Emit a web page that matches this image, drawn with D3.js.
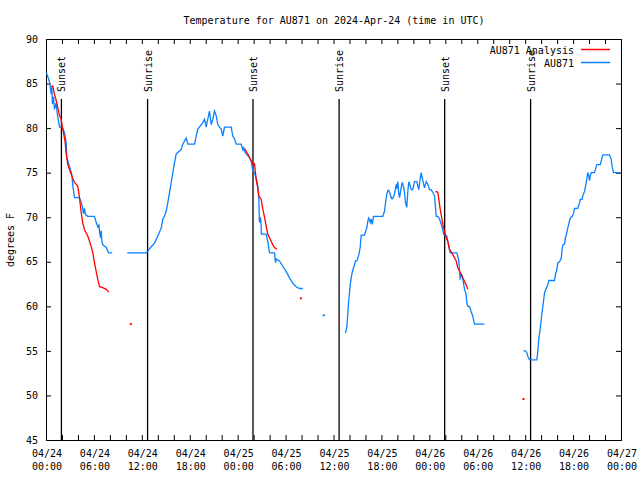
<!DOCTYPE html>
<html>
<head>
<meta charset="utf-8">
<script src="https://cdn.jsdelivr.net/npm/d3@7"></script>
<style>
  body { margin: 0; background: #fff; }
  svg { display: block; }
  text { font-family: "DejaVu Sans Mono", "Liberation Mono", monospace; font-size: 10px; fill: #000; }
</style>
</head>
<body>
<svg id="chart" width="640" height="480"></svg>
<script>
// ---------------- data ----------------
const titleText = "Temperature for AU871 on 2024-Apr-24 (time in UTC)";
const yAxisLabel = "degrees F";
const yTicks = [45, 50, 55, 60, 65, 70, 75, 80, 85, 90];
const xLabelHours = [0, 6, 12, 18, 24, 30, 36, 42, 48, 54, 60, 66, 72];
const seriesNames = ["AU871 Analysis", "AU871"];
const eventNames = ["Sunset", "Sunrise", "Sunset", "Sunrise", "Sunset", "Sunrise"];
const eventHours = [1.93, 12.72, 25.92, 36.70, 49.92, 60.68];

// hours since 2024-04-24 00:00 UTC, temperature (F); null = gap
const analysisSeries = [
  [0.65,84.7],[0.85,84.7],[1.06,83.8],[1.28,83.1],[1.48,82.3],[1.69,81.4],[1.90,81.0],[2.03,80.2],
  [2.19,79.5],[2.40,78.4],[2.53,77.1],[2.73,75.9],[3.16,74.8],[3.57,73.9],[3.98,73.5],[4.19,72.2],
  [4.41,70.5],[4.61,69.3],[4.82,68.6],[5.23,67.9],[5.45,67.3],[5.66,66.7],[5.86,66.0],[6.07,64.9],
  [6.29,63.9],[6.49,63.0],[6.70,62.2],[7.11,62.1],[7.54,61.9],[7.86,61.6],
  null,
  [10.62,58.0],
  null,
  [24.86,77.7],[25.27,77.1],[25.48,76.7],[25.70,76.3],[25.90,76.0],[26.11,76.0],[26.32,74.2],
  [26.52,73.3],[26.65,72.4],[26.95,72.0],[27.15,70.9],[27.36,70.0],[27.57,69.0],[27.77,68.1],
  [27.99,67.7],[28.20,67.3],[28.40,66.9],[28.61,66.6],[28.90,66.4],
  null,
  [31.91,60.9],
  null,
  [48.77,72.9],[49.06,72.8],[49.19,72.0],[49.36,70.9],[49.52,70.1],[49.69,69.2],[49.90,68.4],
  [50.11,67.7],[50.31,67.3],[50.52,66.4],[50.94,65.8],[51.36,65.1],[51.57,64.3],[51.99,63.6],
  [52.19,63.2],[52.62,62.4],[52.82,61.9],
  null,
  [59.79,49.6]
];

const observedSeries = [
  [0.06,86.2],[0.44,85.2],[0.65,83.8],[0.73,84.6],[0.81,82.7],[0.94,83.5],[1.06,82.1],[1.25,82.8],
  [1.48,81.2],[1.69,80.1],[2.03,80.1],[2.32,79.5],[2.53,78.4],[2.60,76.7],[2.94,75.7],[3.23,74.8],
  [3.36,73.5],[3.57,72.2],[4.19,72.2],[4.41,71.7],[4.57,71.1],[4.70,70.4],[4.82,71.0],[4.95,70.3],
  [5.23,70.1],[6.07,70.1],[6.29,69.4],[6.51,68.9],[6.64,69.1],[6.70,68.4],[6.82,67.7],[6.91,68.5],
  [7.01,67.2],[7.11,66.9],[7.54,66.6],[7.83,66.0],[8.29,66.0],
  null,
  [10.17,66.0],[12.55,66.0],[12.75,66.2],[13.09,66.6],[13.59,67.1],[14.00,67.9],[14.43,68.8],
  [14.63,69.8],[14.84,70.1],[15.05,70.7],[15.25,71.6],[15.47,72.8],[15.68,73.9],[15.88,75.0],
  [16.09,76.1],[16.30,77.1],[16.93,77.6],[17.13,78.2],[17.56,78.9],[17.76,78.2],[18.60,78.2],
  [18.81,79.1],[19.01,79.9],[19.63,80.6],[19.85,81.0],[20.06,80.1],[20.26,81.0],[20.47,81.9],
  [20.69,80.4],[20.89,81.0],[21.10,81.9],[21.31,81.4],[21.51,80.4],[21.73,80.1],[21.94,79.9],
  [22.14,79.1],[22.35,80.1],[23.19,80.1],[23.39,79.1],[23.60,78.8],[23.82,78.2],[24.44,78.2],
  [24.64,77.6],[24.73,77.9],[24.86,77.4],[25.07,77.1],[25.48,76.7],[25.70,76.3],[25.90,75.2],
  [26.11,75.0],[26.32,74.4],[26.52,73.5],[26.65,72.0],[26.73,69.4],[26.86,70.0],[26.95,69.0],
  [26.96,68.1],[27.57,68.1],[27.77,67.3],[27.99,66.0],[28.61,66.0],[28.74,64.9],[28.83,65.3],
  [29.24,65.1],[29.65,64.5],[30.08,63.9],[30.49,63.2],[30.90,62.6],[31.33,62.2],[31.74,62.0],
  [32.16,62.0],
  null,
  [34.78,59.0],
  null,
  [37.50,57.0],[37.67,57.7],[37.79,59.1],[37.88,60.4],[38.00,61.5],[38.09,62.4],[38.22,63.2],
  [38.34,63.8],[38.50,64.3],[38.63,64.7],[38.76,65.1],[38.92,65.1],[39.04,65.4],[39.17,65.8],
  [39.34,66.6],[39.47,68.0],[39.88,68.0],[40.01,68.4],[40.17,68.8],[40.30,69.6],[40.42,69.9],
  [40.60,69.4],[40.72,69.8],[40.85,69.2],[41.01,70.1],[42.17,70.1],[42.39,70.7],[42.51,71.6],
  [42.68,72.6],[42.80,73.0],[42.93,73.0],[43.10,72.6],[43.26,72.1],[43.43,72.1],[43.64,72.6],
  [43.85,73.7],[43.93,73.2],[44.05,74.0],[44.18,72.6],[44.27,72.2],[44.43,73.1],[44.60,73.9],
  [44.77,73.4],[44.89,72.8],[45.02,71.6],[45.18,71.1],[45.30,72.8],[45.43,74.0],[45.60,73.5],
  [45.73,73.1],[45.93,73.1],[46.14,74.0],[46.43,74.0],[46.56,73.5],[46.68,73.1],[46.86,74.4],
  [46.98,75.0],[47.11,74.4],[47.27,73.8],[47.40,73.3],[47.61,74.0],[47.81,73.7],[48.02,73.1],
  [48.23,73.1],[48.43,72.8],[48.65,72.4],[48.77,71.1],[48.86,70.1],[49.06,70.1],[49.27,69.8],
  [49.49,69.2],[49.69,68.6],[49.77,68.1],[50.03,67.9],[50.19,67.9],[50.36,67.1],[50.61,66.0],
  [51.44,66.0],[51.57,65.6],[51.69,65.1],[51.78,64.1],[51.86,63.0],[51.99,63.6],[52.12,63.4],
  [52.28,62.6],[52.41,61.9],[52.62,61.3],[52.69,60.4],[52.82,60.0],[53.03,60.0],[53.24,59.4],
  [53.44,58.9],[53.66,58.0],[54.91,58.0],
  null,
  [59.79,55.0],[60.04,55.0],[60.21,54.8],[60.33,54.4],[60.54,54.0],[61.46,54.0],[61.58,54.9],
  [61.71,56.4],[61.88,57.4],[62.01,58.5],[62.13,59.4],[62.30,60.6],[62.42,61.5],[62.63,62.0],
  [62.83,62.4],[62.96,62.9],[63.67,62.9],[63.80,63.6],[63.96,64.1],[64.09,64.9],[64.30,65.0],
  [64.51,65.4],[64.63,66.4],[64.71,66.9],[64.93,67.0],[65.05,67.7],[65.22,68.3],[65.34,68.8],
  [65.55,69.6],[65.64,69.9],[65.89,70.1],[66.05,70.4],[66.18,71.0],[66.59,71.0],[66.81,71.6],
  [66.89,72.0],[67.14,72.0],[67.22,72.4],[67.43,72.9],[67.56,73.5],[67.72,74.3],[67.84,75.0],
  [67.97,74.6],[68.06,74.1],[68.14,74.6],[68.27,75.0],[68.68,75.0],[68.81,75.4],[68.97,75.9],
  [69.40,75.9],[69.52,76.3],[69.72,77.0],[70.56,77.0],[70.77,76.5],[70.89,75.7],[71.06,75.0],
  [71.90,75.0]
];

const seriesColors = ["#ff0000", "#0a80ff"];

// ---------------- chart ----------------
const svg = d3.select("#chart");
const t0 = Date.UTC(2024, 3, 24);
const toDate = h => new Date(t0 + h * 3600e3);

const x = d3.scaleUtc().domain([toDate(0), toDate(72)]).range([46, 621]);
const y = d3.scaleLinear().domain([45, 90]).range([440, 39]);

const labelSet = new Set(xLabelHours.map(h => +toDate(h)));
const fmt = d3.utcFormat("%m/%d|%H:%M");

// bottom axis
const gB = svg.append("g").attr("transform", "translate(0,440)")
  .call(d3.axisBottom(x).ticks(d3.utcHour.every(2)).tickSize(-5)
    .tickFormat(d => labelSet.has(+d) ? fmt(d) : ""));
gB.selectAll(".tick text").each(function () {
  const s = d3.select(this);
  const parts = s.text().split("|");
  s.text(null).attr("y", null).attr("dy", null);
  if (parts.length < 2) return;
  s.append("tspan").attr("x", 0.5).attr("y", 17).text(parts[0]);
  s.append("tspan").attr("x", 0.5).attr("y", 30).text(parts[1]);
});
// top axis
const gT = svg.append("g").attr("transform", "translate(0,39)")
  .call(d3.axisTop(x).ticks(d3.utcHour.every(2)).tickSize(-5).tickFormat(""));
// left axis
const gL = svg.append("g").attr("transform", "translate(46,0)")
  .call(d3.axisLeft(y).tickValues(yTicks).tickSize(-5).tickPadding(8));
// right axis
const gR = svg.append("g").attr("transform", "translate(621,0)")
  .call(d3.axisRight(y).tickValues(yTicks).tickSize(-5).tickFormat(""));

[gB, gT, gL, gR].forEach(g => {
  g.select(".domain").remove();
  g.selectAll(".tick line").attr("stroke", "#000").attr("stroke-width", 1);
  g.selectAll("text").style("font-family", "DejaVu Sans Mono, monospace").style("font-size", "10px").attr("fill", "#000");
});

// border
svg.append("rect")
  .attr("x", x.range()[0] + 0.5).attr("y", y.range()[1] + 0.5)
  .attr("width", x.range()[1] - x.range()[0]).attr("height", y.range()[0] - y.range()[1])
  .attr("fill", "none").attr("stroke", "#000").attr("stroke-width", 1);

// event lines
const ev = svg.append("g").selectAll("g").data(eventHours).join("g");
ev.append("line")
  .attr("x1", d => x(toDate(d))).attr("x2", d => x(toDate(d)))
  .attr("y1", 99).attr("y2", y(45))
  .attr("stroke", "#000").attr("stroke-width", 1.3);
ev.append("text")
  .attr("transform", d => `translate(${x(toDate(d)) + 4},92) rotate(-90)`)
  .attr("text-anchor", "start")
  .text((d, i) => eventNames[i]);

// series
const line = d3.line().defined(d => d !== null)
  .x(d => x(toDate(d[0]))).y(d => y(d[1]));

function drawSeries(data, color) {
  svg.append("path").datum(data)
    .attr("d", line).attr("fill", "none")
    .attr("stroke", color).attr("stroke-width", 1.3).attr("stroke-linejoin", "miter");
  const singles = data.filter((d, i) => d !== null && !data[i - 1] && !data[i + 1]);
  svg.append("g").selectAll("rect").data(singles).join("rect")
    .attr("x", d => x(toDate(d[0])) - 1).attr("y", d => y(d[1]) - 1)
    .attr("width", 2).attr("height", 2).attr("fill", color);
}
drawSeries(observedSeries, seriesColors[1]);
drawSeries(analysisSeries, seriesColors[0]);

// legend
const lg = svg.append("g").selectAll("g").data(seriesNames).join("g");
lg.append("text").attr("x", 574).attr("y", (d, i) => 50 + 13 * i).attr("dy", "0.35em")
  .attr("text-anchor", "end").text(d => d);
lg.append("line").attr("x1", 581).attr("x2", 610)
  .attr("y1", (d, i) => 49.5 + 13 * i).attr("y2", (d, i) => 49.5 + 13 * i)
  .attr("stroke", (d, i) => seriesColors[i]).attr("stroke-width", 1.5);

// title and y label
svg.append("text").attr("x", (x.range()[0] + x.range()[1]) / 2 + 0.5).attr("y", 24)
  .attr("text-anchor", "middle").text(titleText);
svg.append("text").attr("transform", "translate(14,240) rotate(-90)")
  .attr("text-anchor", "middle").text(yAxisLabel);
</script>
</body>
</html>
